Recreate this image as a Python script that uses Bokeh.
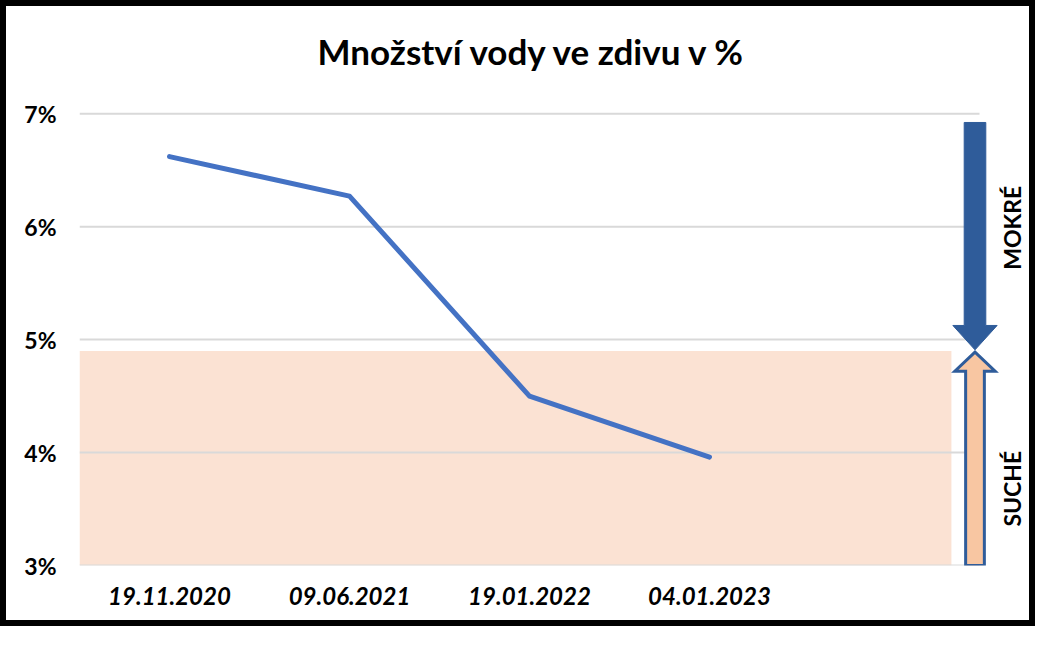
import math
from bokeh.plotting import figure
from bokeh.models import Range1d, FixedTicker
from bokeh.core.properties import value
from bokeh.embed import file_html
from bokeh.resources import INLINE

# ---- data ----
categories = ["19.11.2020", "09.06.2021", "19.01.2022", "04.01.2023"]
moisture = [6.62, 6.27, 4.50, 3.96]
y_ticks = [3, 4, 5, 6, 7]
y_labels = ["3%", "4%", "5%", "6%", "7%"]
dry_limit = 4.9
n_slots = 5
title_text = "Množství vody ve zdivu v %"
wet_label = "MOKRÉ"
dry_label = "SUCHÉ"

FONT = "Lato"
BORDER = 6
W, H = 1047 - 2 * BORDER, 638 - 2 * BORDER
left_b, top_b, bottom_b = 73, 90, 67
slot_px = 180.0
frame_w = W - left_b
x_lo = -0.5
x_hi = x_lo + frame_w / slot_px
y_lo, y_hi = 3.0, 7.152

p = figure(width=W, height=H, output_backend="svg", toolbar_location=None,
           x_range=Range1d(x_lo, x_hi), y_range=Range1d(y_lo, y_hi),
           min_border_left=left_b, min_border_right=0, min_border_bottom=bottom_b,
           min_border_top=top_b,
           styles={"border": f"{BORDER}px solid black"})
p.outline_line_color = None
p.xgrid.visible = False
p.ygrid.visible = False

# title
p.title.text = title_text
p.title.text_font = FONT
p.title.text_font_size = "35px"
p.title.text_font_style = "bold"
p.title.text_color = "black"
p.title.align = "left"
p.title.offset = 238
p.title.vertical_align = "top"
p.title.standoff = 46

# dry band
p.quad(left=x_lo, right=x_lo + 4.844, bottom=y_ticks[0], top=dry_limit,
       fill_color="#FBE2D3", line_color=None)

# gridlines
grid_x0 = x_lo
grid_x1 = x_lo + n_slots
p.segment(x0=[grid_x0] * len(y_ticks), x1=[grid_x1] * len(y_ticks), y0=y_ticks, y1=y_ticks,
          line_color="#D9D9D9", line_width=2)

# series line
xs = list(range(len(categories)))
p.line(xs, moisture, line_color="#4472C4", line_width=5, line_cap="round", line_join="round")

# arrows
ax = x_lo + 4.975
shaft = 0.06
head = 0.123
wet_top = 6.922
wet_head = 5.125
tip = 4.909
p.patch([ax - shaft, ax + shaft, ax + shaft, ax + head, ax, ax - head, ax - shaft],
        [wet_top, wet_top, wet_head, wet_head, tip, wet_head, wet_head],
        fill_color="#2F5C9A", line_color="#2F5C9A", line_width=1)
dshaft = 0.052
dhead = 0.112
dry_head = 4.72
dry_bot = 3.0
p.patch([ax - dshaft, ax + dshaft, ax + dshaft, ax + dhead, ax, ax - dhead, ax - dshaft],
        [dry_bot, dry_bot, dry_head, dry_head, tip - 0.02, dry_head, dry_head],
        fill_color="#F8C6A2", line_color="#2F5C9A", line_width=3, line_join="miter")

tx = x_lo + 5.178
p.text(x=[tx], y=[5.99], text=[wet_label], angle=math.pi / 2, text_align="center",
       text_baseline="middle", text_font=value(FONT), text_font_style="bold",
       text_font_size="23px", text_color="black")
p.text(x=[tx], y=[3.68], text=[dry_label], angle=math.pi / 2, text_align="center",
       text_baseline="middle", text_font=value(FONT), text_font_style="bold",
       text_font_size="23px", text_color="black")

# axes
xa = p.xaxis[0]
xa.ticker = FixedTicker(ticks=xs)
xa.major_label_overrides = {i: c for i, c in zip(xs, categories)}
xa.axis_line_color = None
xa.major_tick_line_color = None
xa.minor_tick_line_color = None
xa.major_label_standoff = 15
xa.major_label_text_font = FONT
xa.major_label_text_font_style = "bold italic"
xa.major_label_text_font_size = "24px"
xa.major_label_text_color = "black"

ya = p.yaxis[0]
ya.ticker = FixedTicker(ticks=y_ticks)
ya.major_label_overrides = {t: l for t, l in zip(y_ticks, y_labels)}
ya.axis_line_color = None
ya.major_tick_line_color = None
ya.minor_tick_line_color = None
ya.major_label_standoff = 17
ya.major_label_text_font = FONT
ya.major_label_text_font_style = "bold"
ya.major_label_text_font_size = "23px"
ya.major_label_text_color = "black"

open("out.html", "w").write(file_html(p, INLINE))
